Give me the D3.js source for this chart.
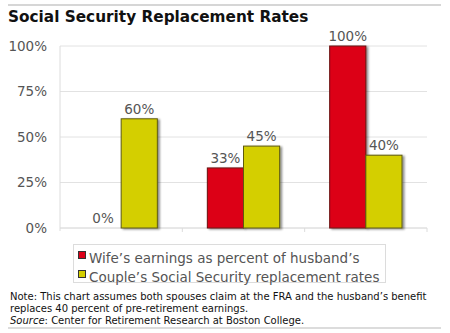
<!DOCTYPE html>
<html><head><meta charset="utf-8">
<script src="https://cdn.jsdelivr.net/npm/d3@7/dist/d3.min.js"></script>
<style>
html,body{margin:0;padding:0;background:#fff;}
svg{display:block;font-family:"DejaVu Sans",Verdana,sans-serif;}
</style></head><body>
<script>
const categories = ["A", "B", "C"];
const wifeEarnings = [0, 33, 100];
const replacementRates = [60, 45, 40];
const seriesNames = ["Wife\u2019s earnings as percent of husband\u2019s", "Couple\u2019s Social Security replacement rates"];
const yTicks = [0, 25, 50, 75, 100];
const colors = ["#dc0019", "#d4cf00"];
const strokes = ["#6a1010", "#5e5a10"];

const W = 450, H = 333;
const svg = d3.select("body").append("svg").attr("width", W).attr("height", H);

const defs = svg.append("defs");
const f = defs.append("filter").attr("id","sh").attr("x","-20%").attr("y","-20%").attr("width","150%").attr("height","150%");
f.append("feOffset").attr("in","SourceAlpha").attr("dx",2).attr("dy",1).attr("result","o");
f.append("feGaussianBlur").attr("in","o").attr("stdDeviation",0.8).attr("result","b");
f.append("feComponentTransfer").attr("in","b").attr("result","c").append("feFuncA").attr("type","linear").attr("slope",0.45);
const m = f.append("feMerge"); m.append("feMergeNode").attr("in","c"); m.append("feMergeNode").attr("in","SourceGraphic");

// top & bottom rules
svg.append("line").attr("x1",8).attr("x2",441).attr("y1",5).attr("y2",5).attr("stroke","#c8c8c8").attr("stroke-width",1.5);
svg.append("line").attr("x1",8).attr("x2",441).attr("y1",328).attr("y2",328).attr("stroke","#d0d0d0").attr("stroke-width",1.5);

svg.append("text").attr("x",8).attr("y",22).attr("font-size",15.3).attr("font-weight","bold").attr("fill","#111")
  .text("Social Security Replacement Rates");

const x0 = d3.scaleBand().domain(categories).range([60, 427]).paddingInner(0).paddingOuter(0);
const x1 = d3.scaleBand().domain([0,1]).range([25, x0.bandwidth()-25]);
const y = d3.scaleLinear().domain([0, 100]).range([228, 46]);

// gridlines
svg.append("g").selectAll("line").data(yTicks).join("line")
  .attr("x1",60).attr("x2",427).attr("y1",d=>y(d)).attr("y2",d=>y(d))
  .attr("stroke",d=>d===0?"#d0d0d0":"#e2e2e2").attr("stroke-width",1);
// y axis line
svg.append("line").attr("x1",60).attr("x2",60).attr("y1",y(100)).attr("y2",y(0)+3).attr("stroke","#dcdcdc");
// category ticks
svg.append("g").selectAll("line").data(categories).join("line")
  .attr("x1",d=>x0(d)+x0.bandwidth()).attr("x2",d=>x0(d)+x0.bandwidth())
  .attr("y1",y(0)).attr("y2",y(0)+4).attr("stroke","#dcdcdc");
// y tick labels
svg.append("g").selectAll("text").data(yTicks).join("text")
  .attr("x",47).attr("y",d=>y(d)).attr("dy","0.36em").attr("text-anchor","end")
  .attr("font-size",13.5).attr("fill","#555").text(d=>d+"%");

const series = [wifeEarnings, replacementRates];
series.forEach((vals, s) => {
  const g = svg.append("g");
  g.selectAll("rect").data(vals.map((v,i)=>({v, c:categories[i]})).filter(d=>d.v>0)).join("rect")
    .attr("x", d=>x0(d.c)+x1(s)).attr("width", x1.bandwidth())
    .attr("y", d=>y(d.v)).attr("height", d=>y(0)-y(d.v))
    .attr("fill", colors[s]).attr("stroke", strokes[s]).attr("stroke-width",1)
    .attr("filter","url(#sh)");
  svg.append("g").selectAll("text").data(vals.map((v,i)=>({v, c:categories[i]}))).join("text")
    .attr("x", d=>x0(d.c)+x1(s)+x1.bandwidth()/2)
    .attr("y", d=>y(d.v)-5)
    .attr("text-anchor","middle").attr("font-size",13.5).attr("fill","#555")
    .text(d=>d.v+"%");
});

// legend
const lg = svg.append("g");
lg.append("rect").attr("x",73.5).attr("y",244.5).attr("width",312).attr("height",38).attr("fill","#fff").attr("stroke","#dcdcdc");
seriesNames.forEach((n,i)=>{
  const yy = 258 + i*19;
  lg.append("rect").attr("x",78.5).attr("y",yy-6.5).attr("width",7).attr("height",7)
    .attr("fill",colors[i]).attr("stroke","#333").attr("stroke-width",1);
  lg.append("text").attr("x",89).attr("y",yy+0.5).attr("dy","0.36em").attr("font-size",13.5).attr("fill","#555").text(n);
});

// notes
const nt = svg.append("text").attr("font-size",10).attr("fill","#111");
nt.append("tspan").attr("x",10).attr("y",300).text("Note: This chart assumes both spouses claim at the FRA and the husband\u2019s benefit");
nt.append("tspan").attr("x",10).attr("y",312).text("replaces 40 percent of pre-retirement earnings.");
const l3 = nt.append("tspan").attr("x",10).attr("y",324);
l3.append("tspan").attr("font-style","italic").text("Source");
l3.append("tspan").text(": Center for Retirement Research at Boston College.");
</script>
</body></html>
